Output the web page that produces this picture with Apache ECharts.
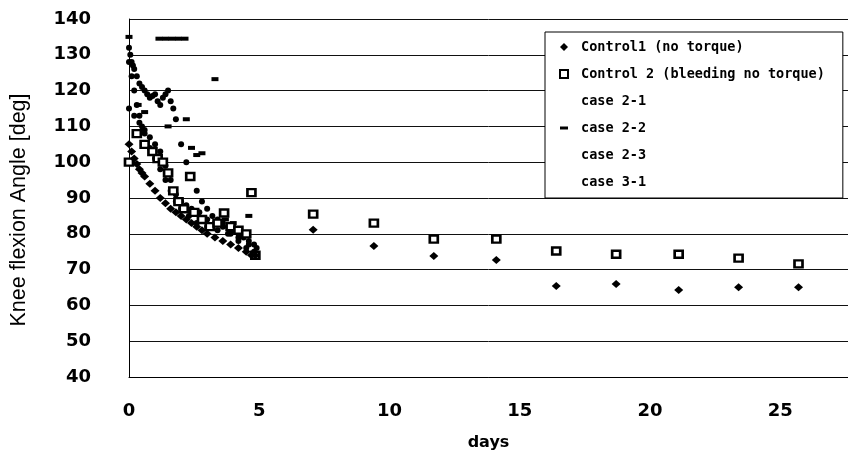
<!DOCTYPE html>
<html>
<head>
<meta charset="utf-8">
<script src="https://cdn.jsdelivr.net/npm/echarts@6/dist/echarts.min.js"></script>
<style>
html,body{margin:0;padding:0;background:#fff;}
#chart{width:848px;height:459px;}
</style>
</head>
<body>
<div id="chart"></div>
<script>
// ---- data ----
const seriesNames = ['Control1 (no torque)', 'Control 2 (bleeding no torque)', 'case 2-1', 'case 2-2', 'case 2-3', 'case 3-1'];

const c1Days = [0, 0.1, 0.2, 0.3, 0.4, 0.5, 0.6, 0.8, 1.0, 1.2, 1.4, 1.6, 1.8, 2.0, 2.2, 2.4, 2.6, 2.8, 3.0, 3.3, 3.6, 3.9, 4.2, 4.5, 4.7, 4.85, 7.07, 9.4, 11.7, 14.1, 16.4, 18.7, 21.1, 23.4, 25.7];
const c1Vals = [105, 103, 101, 99.5, 98, 97, 96, 94, 92, 90, 88.5, 87, 86, 85, 84, 83, 82, 81, 80, 79, 78, 77, 76, 75, 74, 74, 81.1, 76.6, 73.8, 72.7, 65.4, 66, 64.3, 65.1, 65.1];

const c2Days = [0, 0.3, 0.6, 0.9, 1.1, 1.3, 1.5, 1.7, 1.9, 2.1, 2.35, 2.5, 2.8, 3.1, 3.4, 3.65, 3.9, 4.2, 4.5, 4.7, 4.85, 7.07, 9.4, 11.7, 14.1, 16.4, 18.7, 21.1, 23.4, 25.7];
const c2Vals = [100, 108, 105, 103, 101, 100, 97, 92, 89, 87, 96, 86, 84, 82, 83, 85.8, 82, 81, 80, 91.5, 74, 85.5, 83, 78.5, 78.5, 75.2, 74.3, 74.3, 73.2, 71.6];

const c21Days = [0, 0.05, 0.1, 0.15, 0.2, 0.3, 0.4, 0.5, 0.6, 0.7, 0.8, 0.9, 1.0, 1.1, 1.2, 1.3, 1.4, 1.5, 1.6, 1.7, 1.8, 2.0, 2.2, 2.4, 2.6, 2.8, 3.0, 3.2, 3.4, 3.6, 3.8, 4.0, 4.2, 4.4, 4.6, 4.8];
const c21Vals = [132, 130, 128, 127, 126, 124, 122, 121, 120, 119, 118, 118.5, 119, 117, 116, 118, 119, 120, 117, 115, 112, 105, 100, 96, 92, 89, 87, 85, 84, 83, 82, 81, 80, 79, 78, 77];

const c22Days = [0, 1.15, 1.4, 1.65, 1.9, 2.15, 3.3, 1.5, 2.2, 0.35, 0.6, 2.4, 2.6, 2.8, 3.7, 4.0, 4.6];
const c22Vals = [135, 134.5, 134.5, 134.5, 134.5, 134.5, 123.2, 110, 112, 116, 114, 104, 102, 102.5, 84, 83, 85];

const c23Days = [0, 0.2, 0.4, 0.6, 0.8, 1.0, 1.2, 1.4, 1.6, 1.8, 2.0, 2.2, 2.4, 2.7, 3.0, 3.3, 3.6, 3.9, 4.2, 4.5, 4.8];
const c23Vals = [115, 113, 111, 109, 107, 105, 103, 99, 95, 91, 89, 88, 87, 86, 84, 83, 82, 80, 78, 76, 75];

const c31Days = [0, 0.1, 0.2, 0.3, 0.4, 0.5, 0.6, 0.8, 1.0, 1.2, 1.4, 1.6, 1.8, 2.0, 2.3, 2.6, 3.0, 3.4, 3.8, 4.2, 4.6, 4.9];
const c31Vals = [128, 124, 120, 116, 113, 110, 108, 104, 101, 98, 95, 92, 89, 87, 85, 83, 82, 81, 80, 79, 77, 76];

// ---- build ----
function pairs(xs, ys) { return xs.map((x, i) => [x, ys[i]]); }

const chart = echarts.init(document.getElementById('chart'), null, {renderer: 'canvas'});
const axisFont = {fontFamily: 'DejaVu Sans', fontWeight: 'bold', fontSize: 18, color: '#000'};
const dashIcon = 'path://M0,0M8,8M0,2.5L8,2.5L8,5.5L0,5.5Z';

const option = {
  backgroundColor: '#fff',
  animation: false,
  grid: {left: 129, top: 19, right: 0, bottom: 82, containLabel: false},
  legend: {
    orient: 'vertical',
    left: 545, top: 32,
    backgroundColor: '#fff',
    borderColor: '#000', borderWidth: 1,
    padding: [8, 18, 9, 14],
    itemWidth: 8, itemHeight: 8, itemGap: 13,
    textStyle: {fontFamily: 'DejaVu Sans Mono', fontWeight: 'bold', fontSize: 13.5, color: '#000', lineHeight: 14, padding: [0, 0, 0, 8]},
    data: [
      {name: seriesNames[0], icon: 'diamond'},
      {name: seriesNames[1], icon: 'rect'},
      {name: seriesNames[2], icon: 'none'},
      {name: seriesNames[3], icon: dashIcon},
      {name: seriesNames[4], icon: 'none'},
      {name: seriesNames[5], icon: 'none'}
    ]
  },
  xAxis: {
    type: 'value', min: 0, max: 27.6, interval: 5,
    name: 'days', nameLocation: 'middle', nameGap: 58,
    nameTextStyle: {fontFamily: 'DejaVu Sans', fontWeight: 'bold', fontSize: 16, color: '#000'},
    axisLine: {show: true, lineStyle: {color: '#000', width: 1}},
    axisTick: {show: false},
    axisLabel: Object.assign({margin: 25, showMaxLabel: false}, axisFont),
    splitLine: {show: false}
  },
  yAxis: {
    type: 'value', min: 40, max: 140, interval: 10,
    name: 'Knee flexion Angle [deg]', nameLocation: 'middle', nameGap: 99, nameRotate: 90,
    nameTextStyle: {fontFamily: 'Liberation Sans', fontSize: 21.5, color: '#000', padding: [0, 24, 0, 0]},
    axisLine: {show: true, lineStyle: {color: '#000', width: 1}},
    axisTick: {show: false},
    axisLabel: Object.assign({margin: 38}, axisFont),
    splitLine: {show: true, lineStyle: {color: '#111', width: 1}}
  },
  series: [
    {name: seriesNames[0], type: 'scatter', data: pairs(c1Days, c1Vals), symbol: 'diamond', symbolSize: [9, 8],
     itemStyle: {color: '#000', opacity: 1}, z: 5},
    {name: seriesNames[1], type: 'scatter', data: pairs(c2Days, c2Vals), symbol: 'rect', symbolSize: [8, 7],
     itemStyle: {color: '#fff', borderColor: '#000', borderWidth: 2.5, opacity: 1}, z: 4},
    {name: seriesNames[2], type: 'scatter', data: pairs(c21Days, c21Vals), symbol: 'circle', symbolSize: 6,
     itemStyle: {color: '#000', opacity: 1}, z: 3},
    {name: seriesNames[3], type: 'scatter', data: pairs(c22Days, c22Vals), symbol: 'rect', symbolSize: [7, 4],
     itemStyle: {color: '#000', opacity: 1}, z: 3},
    {name: seriesNames[4], type: 'scatter', data: pairs(c23Days, c23Vals), symbol: 'circle', symbolSize: 6,
     itemStyle: {color: '#000', opacity: 1}, z: 3},
    {name: seriesNames[5], type: 'scatter', data: pairs(c31Days, c31Vals), symbol: 'circle', symbolSize: 6,
     itemStyle: {color: '#000', opacity: 1}, z: 3}
  ]
};
chart.setOption(option);
</script>
</body>
</html>
